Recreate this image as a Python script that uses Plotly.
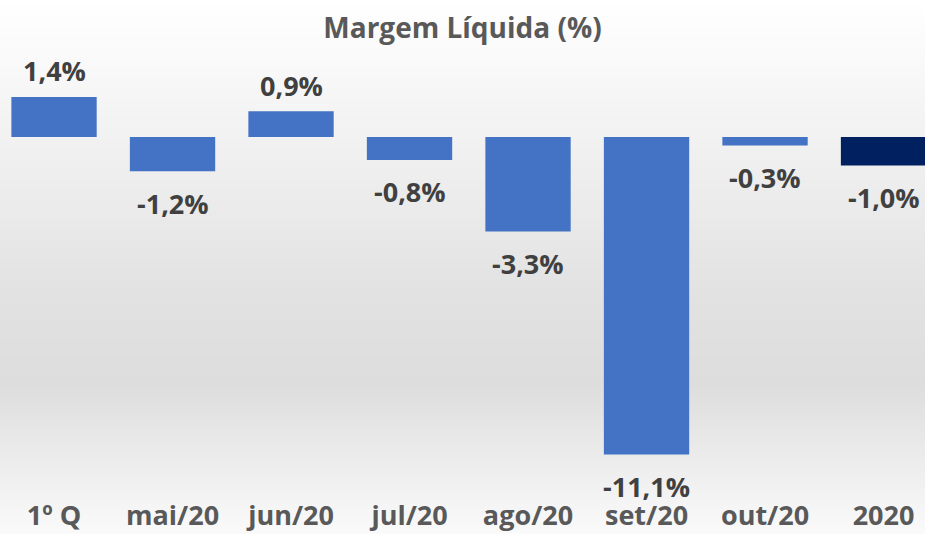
import base64, struct, zlib
import plotly.graph_objects as go

categories = ["1º Q", "mai/20", "jun/20", "jul/20", "ago/20", "set/20", "out/20", "2020"]
values = [1.4, -1.2, 0.9, -0.8, -3.3, -11.1, -0.3, -1.0]
labels = ["1,4%", "-1,2%", "0,9%", "-0,8%", "-3,3%", "-11,1%", "-0,3%", "-1,0%"]
bar_colors = ["#4472C4"] * 7 + ["#002060"]

W, H = 925, 534
B = 37
PX_PER_UNIT = 28.6
ZERO_Y = 137
Y_MAX = ZERO_Y / PX_PER_UNIT
Y_MIN = Y_MAX - (H - B) / PX_PER_UNIT

# vertical gradient background as a tiny PNG
stops = [(0.0, 255), (0.25, 242), (0.55, 226), (0.72, 221), (0.88, 238), (1.0, 250)]
def grey_at(t):
    for (t0, g0), (t1, g1) in zip(stops, stops[1:]):
        if t0 <= t <= t1:
            return int(round(g0 + (g1 - g0) * (t - t0) / (t1 - t0)))
    return stops[-1][1]
raw = b"".join(b"\x00" + bytes([grey_at(r / (H - 1))] * 3) for r in range(H))
def chunk(tag, data):
    c = struct.pack(">I", len(data)) + tag + data
    return c + struct.pack(">I", zlib.crc32(tag + data) & 0xffffffff)
png = (b"\x89PNG\r\n\x1a\n" + chunk(b"IHDR", struct.pack(">IIBBBBB", 1, H, 8, 2, 0, 0, 0))
       + chunk(b"IDAT", zlib.compress(raw)) + chunk(b"IEND", b""))
bg_uri = "data:image/png;base64," + base64.b64encode(png).decode()

FONT = "Open Sans"
fig = go.Figure(go.Bar(
    x=categories, y=values, marker=dict(color=bar_colors, line=dict(width=0)),
    hoverinfo="skip", cliponaxis=False,
))

for i, (v, t) in enumerate(zip(values, labels)):
    fig.add_annotation(x=i, y=v, text=t, showarrow=False, yanchor="middle",
                       yshift=26 if v > 0 else -32,
                       font=dict(family=FONT, size=27, color="#404040", weight="bold"))

fig.update_layout(
    width=W, height=H,
    margin=dict(l=0, r=0, t=0, b=B, pad=0, autoexpand=False),
    paper_bgcolor="white", plot_bgcolor="rgba(0,0,0,0)",
    bargap=0.28, showlegend=False,
    title=dict(text="Margem Líquida (%)", x=0.5, xanchor="center", y=1 - 28 / H,
               yanchor="middle", yref="container",
               font=dict(family=FONT, size=28, color="#595959", weight="bold")),
    images=[dict(source=bg_uri, xref="paper", yref="paper", x=0, y=1, sizex=1,
                 sizey=H / (H - B), sizing="stretch", layer="below",
                 xanchor="left", yanchor="top")],
    xaxis=dict(type="category", range=[-0.456, 7.35], showgrid=False, zeroline=False,
               showline=False, automargin=False, ticks="", ticklabelstandoff=0,
               tickfont=dict(family=FONT, size=27, color="#595959", weight="bold")),
    yaxis=dict(range=[Y_MIN, Y_MAX], visible=False, showgrid=False, zeroline=False,
               automargin=False),
)
fig.write_html("out.html", config={"displayModeBar": False},
               post_script="document.body.style.margin='0px';document.body.style.overflow='hidden';")
